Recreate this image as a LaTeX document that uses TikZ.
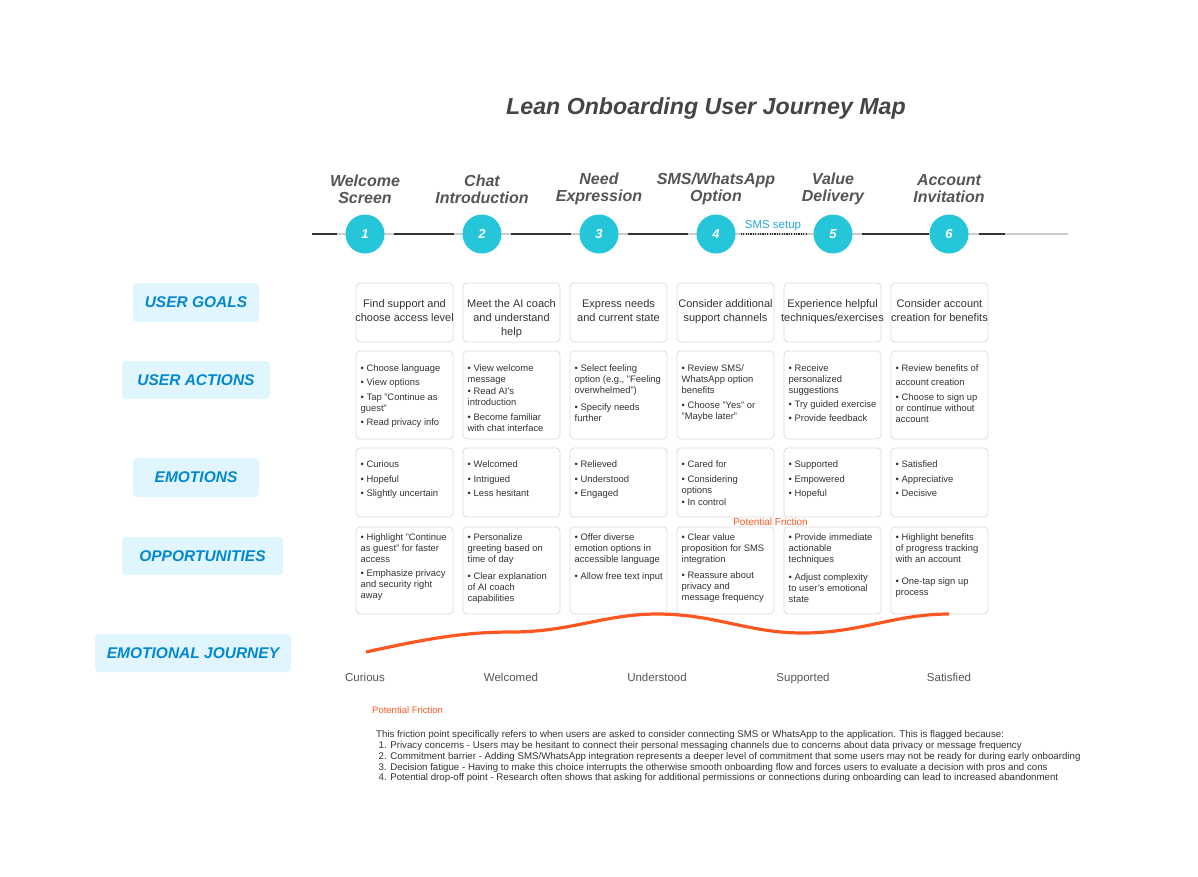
\documentclass[tikz,border=0pt]{standalone}
\usepackage{fontspec}
\setmainfont{Liberation Sans}

\definecolor{stepcyan}{HTML}{26C6DA}
\definecolor{labelblue}{HTML}{0288D1}
\definecolor{labelbg}{HTML}{E1F5FE}
\definecolor{friction}{HTML}{FF5722}
\definecolor{cardline}{HTML}{DCDCDC}
\definecolor{bodytext}{HTML}{333333}
\definecolor{headgray}{HTML}{555555}
\definecolor{smsblue}{HTML}{29A8E0}

\begin{document}
\begin{tikzpicture}[x=1pt,y=-1pt,
  card/.style={draw=cardline,fill=white,rounded corners=4pt,line width=0.8pt,minimum width=97pt,inner sep=0pt},
  goaltxt/.style={font=\fontsize{11}{14}\selectfont,text=bodytext,align=center,anchor=north,inner sep=0pt},
  bultxt/.style={font=\fontsize{9.4}{11}\selectfont,text=bodytext,align=left,anchor=north west,inner sep=0pt},
  rowlabel/.style={fill=labelbg,rounded corners=4pt,text=labelblue,font=\fontsize{15.5}{18}\selectfont\bfseries\itshape,inner sep=0pt},
  stage/.style={circle,fill=stepcyan,minimum size=39pt,inner sep=0pt,text=white,font=\fontsize{13}{15}\selectfont\bfseries\itshape},
  stagehead/.style={font=\fontsize{16}{17}\selectfont\bfseries\itshape,text=headgray,align=center},
  moodlabel/.style={font=\fontsize{11.5}{13}\selectfont,text=headgray,anchor=base},
  seg/.style={draw=bodytext,line width=1.3pt,shorten <=9pt,shorten >=8pt}]

  \fill[white] (0,0) rectangle (1198,876);
  \useasboundingbox (0,0) rectangle (1198,876);

  % title
  \node[font=\fontsize{23.2}{26}\selectfont\bfseries\itshape,text=black!73] (title) at (706,108) {Lean Onboarding User Journey Map};

  % stage headers
  \node[stagehead] (h1) at (365,189) {Welcome\\Screen};
  \node[stagehead] (h2) at (482,189) {Chat\\Introduction};
  \node[stagehead] (h3) at (599,189) {Need\\Expression};
  \node[stagehead] (h4) at (716,189) {SMS/WhatsApp\\Option};
  \node[stagehead] (h5) at (833,189) {Value\\Delivery};
  \node[stagehead] (h6) at (949,189) {Account\\Invitation};

  % timeline
  \coordinate (tlL) at (312,234);
  \coordinate (tlR) at (1068,234);
  \coordinate (tlE) at (1005,234);
  \draw[black!20,line width=2.6pt] (tlL) -- (tlR);
  \node[stage] (s1) at (365,234) {1};
  \node[stage] (s2) at (482,234) {2};
  \node[stage] (s3) at (599,234) {3};
  \node[stage] (s4) at (716,234) {4};
  \node[stage] (s5) at (833,234) {5};
  \node[stage] (s6) at (949,234) {6};
  \draw[seg,shorten <=0pt] (tlL) -- (s1);
  \draw[seg] (s1) -- (s2);
  \draw[seg] (s2) -- (s3);
  \draw[seg] (s3) -- (s4);
  \draw[draw=bodytext,line width=1.3pt,dash pattern=on 1.3pt off 1.1pt,shorten <=5pt,shorten >=6pt] (s4) -- (s5);
  \draw[seg,shorten >=0pt] (s5) -- (s6);
  \draw[seg,shorten >=0pt,shorten <=10pt] (s6) -- (tlE);
  \node[text=smsblue,font=\fontsize{11.5}{13}\selectfont] (sms) at (773,226) {SMS setup};

  % row labels
  \node[rowlabel,minimum width=126pt,minimum height=39pt] (lgoals) at (196,302.5) {USER GOALS};
  \node[rowlabel,minimum width=148pt,minimum height=38pt] (lactions) at (196,380) {USER ACTIONS};
  \node[rowlabel,minimum width=126pt,minimum height=39pt] (lemotions) at (196,477.5) {EMOTIONS};
  \node[rowlabel,minimum width=161pt,minimum height=38pt] (lopps) at (202.5,556) {OPPORTUNITIES};
  \node[rowlabel,minimum width=196pt,minimum height=38pt] (ljourney) at (193,653) {EMOTIONAL JOURNEY};

  % user goals
  \node[card,minimum height=59pt] (g1) at (404.5,312.5) {};
  \node[card,minimum height=59pt] (g2) at (511.5,312.5) {};
  \node[card,minimum height=59pt] (g3) at (618.5,312.5) {};
  \node[card,minimum height=59pt] (g4) at (725.5,312.5) {};
  \node[card,minimum height=59pt] (g5) at (832.5,312.5) {};
  \node[card,minimum height=59pt] (g6) at (939.5,312.5) {};
  \node[goaltxt] (g1t) at (404.5,299) {Find support and\\choose access level};
  \node[goaltxt] (g2t) at (511.5,299) {Meet the AI coach\\and understand\\help};
  \node[goaltxt] (g3t) at (618.5,299) {Express needs\\and current state};
  \node[goaltxt] (g4t) at (725.5,299) {Consider additional\\support channels};
  \node[goaltxt] (g5t) at (832.5,299) {Experience helpful\\techniques/exercises};
  \node[goaltxt] (g6t) at (939.5,299) {Consider account\\creation for benefits};

  % user actions
  \node[card,minimum height=88pt] (a1) at (404.5,395) {};
  \node[card,minimum height=88pt] (a2) at (511.5,395) {};
  \node[card,minimum height=88pt] (a3) at (618.5,395) {};
  \node[card,minimum height=88pt] (a4) at (725.5,395) {};
  \node[card,minimum height=88pt] (a5) at (832.5,395) {};
  \node[card,minimum height=88pt] (a6) at (939.5,395) {};
  \node[bultxt] (a1t) at (360.5,364) {• Choose language\\[3.5pt]• View options\\[3.5pt]• Tap "Continue as\\guest"\\[3.5pt]• Read privacy info};
  \node[bultxt] (a2t) at (467.5,364) {• View welcome\\message\\[1pt]• Read AI's\\introduction\\[4pt]• Become familiar\\with chat interface};
  \node[bultxt] (a3t) at (574.5,364) {• Select feeling\\option (e.g., "Feeling\\overwhelmed")\\[6pt]• Specify needs\\further};
  \node[bultxt] (a4t) at (681.5,364) {• Review SMS/\\WhatsApp option\\benefits\\[4pt]• Choose "Yes" or\\"Maybe later"};
  \node[bultxt] (a5t) at (788.5,364) {• Receive\\personalized\\suggestions\\[3pt]• Try guided exercise\\[3pt]• Provide feedback};
  \node[bultxt] (a6t) at (895.5,364) {• Review benefits of\\[3pt]account creation\\[4pt]• Choose to sign up\\or continue without\\account};

  % emotions
  \node[card,minimum height=69pt] (e1) at (404.5,482.5) {};
  \node[card,minimum height=69pt] (e2) at (511.5,482.5) {};
  \node[card,minimum height=69pt] (e3) at (618.5,482.5) {};
  \node[card,minimum height=69pt] (e4) at (725.5,482.5) {};
  \node[card,minimum height=69pt] (e5) at (832.5,482.5) {};
  \node[card,minimum height=69pt] (e6) at (939.5,482.5) {};
  \node[bultxt] (e1t) at (360.5,460.8) {• Curious\\[3.5pt]• Hopeful\\[3.5pt]• Slightly uncertain};
  \node[bultxt] (e2t) at (467.5,460.8) {• Welcomed\\[3.5pt]• Intrigued\\[3.5pt]• Less hesitant};
  \node[bultxt] (e3t) at (574.5,460.8) {• Relieved\\[3.5pt]• Understood\\[3.5pt]• Engaged};
  \node[bultxt] (e4t) at (681.5,460.8) {• Cared for\\[3.5pt]• Considering\\options\\[1.5pt]• In control};
  \node[bultxt] (e5t) at (788.5,460.8) {• Supported\\[3.5pt]• Empowered\\[3.5pt]• Hopeful};
  \node[bultxt] (e6t) at (895.5,460.8) {• Satisfied\\[3.5pt]• Appreciative\\[3.5pt]• Decisive};

  % opportunities
  \node[card,minimum height=87pt] (o1) at (404.5,570.5) {};
  \node[card,minimum height=87pt] (o2) at (511.5,570.5) {};
  \node[card,minimum height=87pt] (o3) at (618.5,570.5) {};
  \node[card,minimum height=87pt] (o4) at (725.5,570.5) {};
  \node[card,minimum height=87pt] (o5) at (832.5,570.5) {};
  \node[card,minimum height=87pt] (o6) at (939.5,570.5) {};
  \node[bultxt] (o1t) at (360.5,533.8) {• Highlight "Continue\\as guest" for faster\\access\\[3pt]• Emphasize privacy\\and security right\\away};
  \node[bultxt] (o2t) at (467.5,533.8) {• Personalize\\greeting based on\\time of day\\[5.5pt]• Clear explanation\\of AI coach\\capabilities};
  \node[bultxt] (o3t) at (574.5,533.8) {• Offer diverse\\emotion options in\\accessible language\\[5.5pt]• Allow free text input};
  \node[bultxt] (o4t) at (681.5,533.8) {• Clear value\\proposition for SMS\\integration\\[5pt]• Reassure about\\privacy and\\message frequency};
  \node[bultxt] (o5t) at (788.5,533.8) {• Provide immediate\\actionable\\techniques\\[7pt]• Adjust complexity\\to user's emotional\\state};
  \node[bultxt] (o6t) at (895.5,533.8) {• Highlight benefits\\of progress tracking\\with an account\\[11pt]• One-tap sign up\\process};

  \node[text=friction,font=\fontsize{10}{12}\selectfont] (fric) at (770.5,522) {Potential Friction};

  % emotional journey
  \draw[friction,line width=3.2pt] (366,652) .. controls (430,638) and (465,632) .. (512,632)
    .. controls (570,632) and (605,614) .. (657,614)
    .. controls (715,614) and (748,633) .. (803,633)
    .. controls (860,633) and (895,614) .. (949,614);
  \node[moodlabel] (m1) at (365,681) {Curious};
  \node[moodlabel] (m2) at (511,681) {Welcomed};
  \node[moodlabel] (m3) at (657,681) {Understood};
  \node[moodlabel] (m4) at (803,681) {Supported};
  \node[moodlabel] (m5) at (949,681) {Satisfied};

  % friction note
  \node[text=friction,font=\fontsize{9.5}{11}\selectfont,anchor=west,inner sep=0pt] (fnote) at (372,710) {Potential Friction};
  \node[bultxt,font=\fontsize{9.7}{10.8}\selectfont,anchor=north west] (fbody) at (376,730.5) {This friction point specifically refers to when users are asked to consider connecting SMS or WhatsApp to the application. This is flagged because:\\
\hspace*{2.5pt}1. Privacy concerns - Users may be hesitant to connect their personal messaging channels due to concerns about data privacy or message frequency\\
\hspace*{2.5pt}2. Commitment barrier - Adding SMS/WhatsApp integration represents a deeper level of commitment that some users may not be ready for during early onboarding\\
\hspace*{2.5pt}3. Decision fatigue - Having to make this choice interrupts the otherwise smooth onboarding flow and forces users to evaluate a decision with pros and cons\\
\hspace*{2.5pt}4. Potential drop-off point - Research often shows that asking for additional permissions or connections during onboarding can lead to increased abandonment};
\end{tikzpicture}
\end{document}
